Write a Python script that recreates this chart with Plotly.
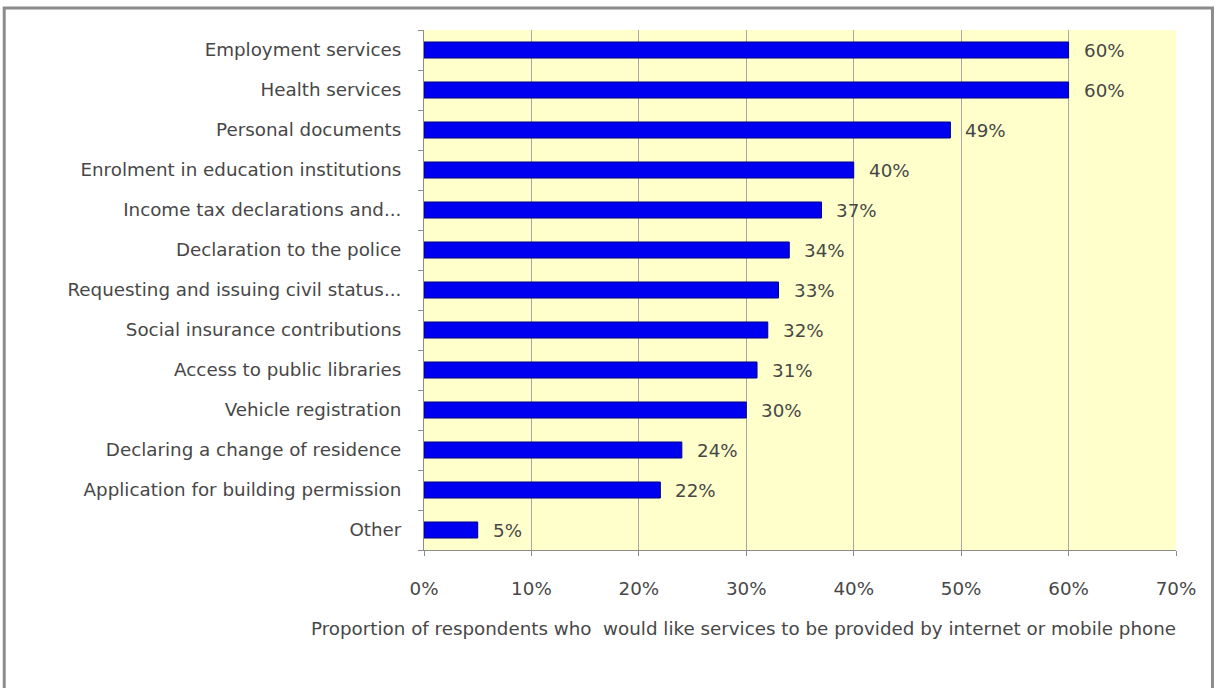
import plotly.graph_objects as go

categories = [
    "Employment services",
    "Health services",
    "Personal documents",
    "Enrolment in education institutions",
    "Income tax declarations and...",
    "Declaration to the police",
    "Requesting and issuing civil status...",
    "Social insurance contributions",
    "Access to public libraries",
    "Vehicle registration",
    "Declaring a change of residence",
    "Application for building permission",
    "Other",
]
values = [60, 60, 49, 40, 37, 34, 33, 32, 31, 30, 24, 22, 5]
x_ticks = [0, 10, 20, 30, 40, 50, 60, 70]
x_tick_labels = [f"{t}%" for t in x_ticks]
axis_title = "Proportion of respondents who\u00a0 would like services to be provided by internet or mobile phone"

FONT = "DejaVu Sans, Verdana, sans-serif"
TEXT_COLOR = "#474747"
FS = 18.3

fig = go.Figure()
fig.add_trace(go.Bar(
    x=values,
    y=categories,
    orientation="h",
    marker=dict(color="#0000f0", line=dict(color="#000080", width=1)),
    width=0.4,
    hoverinfo="skip",
))

# value labels to the right of each bar
for cat, val in zip(categories, values):
    fig.add_annotation(
        x=val, y=cat, xref="x", yref="y",
        text=f"{val}%", showarrow=False,
        xanchor="left", xshift=13,
        font=dict(family=FONT, size=FS, color=TEXT_COLOR),
    )

# x-axis title
fig.add_annotation(
    x=1.002, y=-0.15, xref="paper", yref="paper",
    text=axis_title, showarrow=False,
    xanchor="right", yanchor="middle",
    font=dict(family=FONT, size=FS, color=TEXT_COLOR),
)

# outer chart frame
fig.add_shape(
    type="rect", xref="paper", yref="paper",
    x0=-0.5582, x1=1.0485, y0=1.0423, y1=-0.3,
    line=dict(color="#8c8c8c", width=3),
    fillcolor="rgba(0,0,0,0)", layer="below",
)

fig.update_layout(
    width=1217,
    height=688,
    margin=dict(l=424, r=41, t=30, b=138),
    paper_bgcolor="white",
    plot_bgcolor="#ffffcc",
    showlegend=False,
    font=dict(family=FONT, size=FS, color=TEXT_COLOR),
    xaxis=dict(
        range=[0, 70],
        tickvals=x_ticks,
        ticktext=x_tick_labels,
        showgrid=True,
        gridcolor="#a8a8a8",
        gridwidth=1,
        showline=True,
        linecolor="#8c8c8c",
        linewidth=1,
        ticks="outside",
        ticklen=5,
        tickcolor="#8c8c8c",
        ticklabelstandoff=17,
        zeroline=False,
        fixedrange=True,
    ),
    yaxis=dict(
        categoryorder="array",
        categoryarray=categories[::-1],
        showline=True,
        linecolor="#8c8c8c",
        linewidth=1,
        ticks="outside",
        ticklen=5,
        tickcolor="#8c8c8c",
        tickson="boundaries",
        ticklabelstandoff=18,
        showgrid=False,
        fixedrange=True,
    ),
)

fig.write_html("out.html")
